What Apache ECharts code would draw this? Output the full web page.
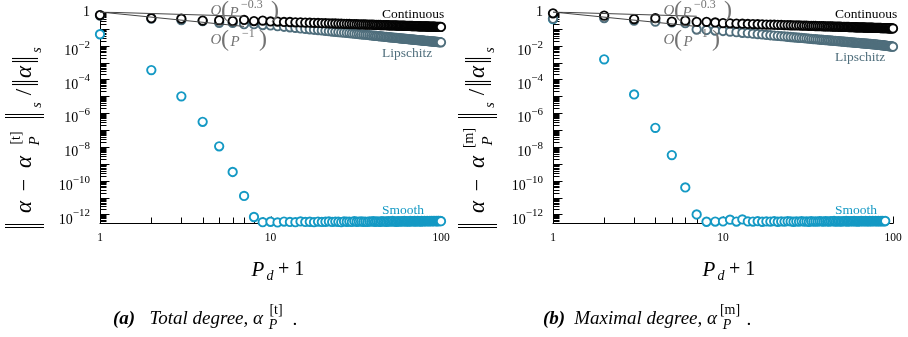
<!DOCTYPE html>
<html>
<head>
<meta charset="utf-8">
<script src="https://cdn.jsdelivr.net/npm/echarts@6/dist/echarts.min.js"></script>
<style>
  html, body { margin: 0; padding: 0; background: #fff; }
  #chart { width: 908px; height: 337px; }
</style>
</head>
<body>
<div id="chart"></div>
<script>
// Polynomial degree axis: P_d + 1
const degree = Array.from({ length: 100 }, (_, i) => i + 1);

// (a) total degree relative errors
const totalContinuous = [
  0.66, 0.43, 0.40, 0.31, 0.32, 0.29, 0.34, 0.29, 0.31, 0.275,
  0.271, 0.258, 0.255, 0.245, 0.243, 0.236, 0.233, 0.227, 0.225, 0.220,
  0.217, 0.214, 0.211, 0.208, 0.205, 0.203, 0.200, 0.198, 0.195, 0.193,
  0.191, 0.189, 0.187, 0.185, 0.184, 0.182, 0.180, 0.179, 0.177, 0.176,
  0.174, 0.173, 0.172, 0.170, 0.169, 0.168, 0.167, 0.166, 0.164, 0.163,
  0.162, 0.161, 0.160, 0.159, 0.158, 0.157, 0.156, 0.156, 0.155, 0.154,
  0.153, 0.152, 0.151, 0.151, 0.150, 0.149, 0.148, 0.148, 0.147, 0.146,
  0.145, 0.145, 0.144, 0.143, 0.143, 0.142, 0.142, 0.141, 0.140, 0.140,
  0.139, 0.139, 0.138, 0.138, 0.137, 0.137, 0.136, 0.136, 0.135, 0.135,
  0.134, 0.134, 0.133, 0.133, 0.132, 0.132, 0.131, 0.131, 0.130, 0.130
];
const totalLipschitz = [
  0.62, 0.41, 0.33, 0.29, 0.23, 0.23, 0.19, 0.19, 0.17, 0.16,
  0.145, 0.134, 0.124, 0.115, 0.107, 0.100, 0.095, 0.089, 0.085, 0.081,
  0.077, 0.073, 0.070, 0.067, 0.065, 0.062, 0.060, 0.058, 0.056, 0.054,
  0.052, 0.050, 0.049, 0.047, 0.046, 0.045, 0.044, 0.043, 0.041, 0.040,
  0.039, 0.038, 0.0375, 0.0366, 0.0357, 0.0348, 0.034, 0.0333, 0.0326, 0.0319,
  0.0312, 0.0306, 0.030, 0.0294, 0.0289, 0.0284, 0.0279, 0.0274, 0.0269, 0.0265,
  0.026, 0.0256, 0.0252, 0.0248, 0.0244, 0.0241, 0.0237, 0.0234, 0.0231, 0.0227,
  0.0224, 0.0221, 0.0218, 0.0216, 0.0213, 0.021, 0.0207, 0.0205, 0.0202, 0.020,
  0.0197, 0.0195, 0.0193, 0.0191, 0.0188, 0.0186, 0.0184, 0.0182, 0.018, 0.0178,
  0.0176, 0.0174, 0.0172, 0.0171, 0.0169, 0.0167, 0.0165, 0.0164, 0.0162, 0.016
];
const totalSmooth = [
  0.048, 3.6e-4, 1.0e-5, 3.1e-7, 1.1e-8, 3.3e-10, 1.26e-11, 7.1e-13,
  3.5e-13, 3.7e-13, 3.4e-13, 3.8e-13, 3.6e-13, 3.5e-13, 3.9e-13, 3.6e-13, 3.7e-13, 3.5e-13,
  3.8e-13, 3.6e-13, 3.7e-13, 3.9e-13, 3.6e-13, 3.8e-13, 3.7e-13, 3.5e-13, 3.9e-13, 3.7e-13,
  3.8e-13, 3.6e-13, 4.0e-13, 3.7e-13, 3.8e-13, 3.9e-13, 3.7e-13, 3.8e-13, 3.6e-13, 3.9e-13,
  3.8e-13, 4.0e-13, 3.7e-13, 3.9e-13, 3.8e-13, 3.7e-13, 4.0e-13, 3.8e-13, 3.9e-13, 3.7e-13,
  4.0e-13, 3.8e-13, 3.9e-13, 4.1e-13, 3.8e-13, 3.9e-13, 3.7e-13, 4.0e-13, 3.9e-13, 3.8e-13,
  4.0e-13, 3.9e-13, 4.1e-13, 3.8e-13, 4.0e-13, 3.9e-13, 3.8e-13, 4.1e-13, 3.9e-13, 4.0e-13,
  3.9e-13, 4.1e-13, 3.8e-13, 4.0e-13, 4.1e-13, 3.9e-13, 4.0e-13, 3.8e-13, 4.1e-13, 4.0e-13,
  3.9e-13, 4.1e-13, 4.0e-13, 3.9e-13, 4.2e-13, 4.0e-13, 3.9e-13, 4.1e-13, 4.0e-13, 4.2e-13,
  3.9e-13, 4.1e-13, 4.0e-13, 4.2e-13, 4.0e-13, 4.1e-13, 3.9e-13, 4.1e-13, 4.2e-13, 4.0e-13,
  4.1e-13, 4.0e-13
];

// (b) maximal degree relative errors
const maximalContinuous = [
  0.84, 0.61, 0.38, 0.43, 0.27, 0.31, 0.26, 0.26, 0.24, 0.22,
  0.214, 0.205, 0.202, 0.196, 0.193, 0.188, 0.185, 0.181, 0.178, 0.176,
  0.173, 0.171, 0.169, 0.167, 0.164, 0.163, 0.161, 0.159, 0.157, 0.155,
  0.154, 0.152, 0.151, 0.150, 0.148, 0.147, 0.146, 0.145, 0.143, 0.142,
  0.141, 0.140, 0.139, 0.138, 0.137, 0.136, 0.135, 0.134, 0.134, 0.133,
  0.132, 0.131, 0.131, 0.130, 0.129, 0.128, 0.128, 0.127, 0.126, 0.125,
  0.125, 0.124, 0.124, 0.123, 0.122, 0.122, 0.121, 0.121, 0.120, 0.120,
  0.119, 0.119, 0.118, 0.118, 0.117, 0.117, 0.116, 0.116, 0.115, 0.115,
  0.114, 0.114, 0.114, 0.113, 0.113, 0.112, 0.112, 0.112, 0.111, 0.111,
  0.110, 0.110, 0.110, 0.109, 0.109, 0.109, 0.108, 0.108, 0.108, 0.107
];
const maximalLipschitz = [
  0.40, 0.44, 0.31, 0.27, 0.24, 0.22, 0.092, 0.086, 0.080, 0.075,
  0.069, 0.064, 0.059, 0.056, 0.052, 0.049, 0.047, 0.044, 0.042, 0.040,
  0.0385, 0.0369, 0.0355, 0.0342, 0.033, 0.0318, 0.0308, 0.0298, 0.0289, 0.028,
  0.0272, 0.0264, 0.0257, 0.025, 0.0244, 0.0238, 0.0232, 0.0227, 0.0222, 0.0218,
  0.0213, 0.0209, 0.0205, 0.0201, 0.0197, 0.0193, 0.019, 0.0187, 0.0183, 0.0179,
  0.0176, 0.0173, 0.017, 0.0167, 0.0165, 0.0162, 0.016, 0.0157, 0.0155, 0.0152,
  0.015, 0.0148, 0.0146, 0.0144, 0.0142, 0.014, 0.0138, 0.0137, 0.0135, 0.0133,
  0.0131, 0.013, 0.0128, 0.0127, 0.0125, 0.0124, 0.0122, 0.0121, 0.0119, 0.0118,
  0.0116, 0.0114, 0.0113, 0.0111, 0.011, 0.0108, 0.0107, 0.0105, 0.0104, 0.0102,
  0.0101, 0.0099, 0.0098, 0.0096, 0.0095, 0.0094, 0.0092, 0.0091, 0.009, 0.0088
];
const maximalSmooth = [
  0.38, 1.56e-3, 1.3e-5, 1.36e-7, 3.3e-9, 4.0e-11, 1.0e-12,
  3.7e-13, 3.8e-13, 3.9e-13, 4.9e-13, 3.8e-13, 5.1e-13, 3.9e-13, 3.8e-13, 4.0e-13, 3.7e-13,
  3.9e-13, 3.8e-13, 4.0e-13, 3.7e-13, 3.9e-13, 3.8e-13, 4.0e-13, 3.9e-13, 3.7e-13, 3.9e-13,
  3.8e-13, 4.0e-13, 3.8e-13, 3.9e-13, 3.7e-13, 4.0e-13, 3.8e-13, 3.9e-13, 3.8e-13, 4.0e-13,
  3.9e-13, 3.8e-13, 4.0e-13, 3.9e-13, 3.8e-13, 4.0e-13, 3.9e-13, 4.1e-13, 3.8e-13, 3.9e-13,
  4.0e-13, 3.8e-13, 3.9e-13, 4.0e-13, 3.9e-13, 4.1e-13, 3.8e-13, 4.0e-13, 3.9e-13, 4.0e-13,
  3.9e-13, 4.1e-13, 3.9e-13, 4.0e-13, 3.8e-13, 4.0e-13, 3.9e-13, 4.1e-13, 4.0e-13, 3.9e-13,
  4.0e-13, 4.1e-13, 3.9e-13, 4.0e-13, 3.9e-13, 4.1e-13, 4.0e-13, 3.9e-13, 4.1e-13, 4.0e-13,
  4.0e-13, 4.1e-13, 3.9e-13, 4.0e-13, 4.1e-13, 4.0e-13, 3.9e-13, 4.1e-13, 4.0e-13, 4.1e-13,
  4.0e-13, 3.9e-13, 4.1e-13
];

// Convergence-rate guide segments
const rateSlowGuide = [[1, 1.0], [7, 0.56]];   // O(P^-0.3)
const rateFastGuide = [[1, 1.0], [7, 0.14]];   // O(P^-1)

// Axis ranges and tick positions
const X_MIN = 1, X_MAX = 100;
const Y_MIN = 3e-13, Y_MAX = 1;
const yMajorTicks = [1, 1e-1, 1e-2, 1e-3, 1e-4, 1e-5, 1e-6, 1e-7, 1e-8, 1e-9, 1e-10, 1e-11, 1e-12];
const yMinorMultiples = [2, 3, 4, 5, 6, 7, 8, 9];
const xMajorTicks = [1, 10, 100];
const xMinorTicks = [2, 3, 4, 5, 6, 7, 8, 9, 20, 30, 40, 50, 60, 70, 80, 90];
const yLabelExponents = [0, -2, -4, -6, -8, -10, -12];

const SERIF = '"Liberation Serif", "DejaVu Serif", serif';
const COLOR_CONT = '#050505';
const COLOR_LIP = '#4f6e7c';
const COLOR_SMOOTH = '#1499c4';
const COLOR_NOTE = '#737373';

const yMinorTicks = [];
yMajorTicks.concat([1e-13]).forEach(d => {
  yMinorMultiples.forEach(m => {
    const v = d * m;
    if (v > Y_MIN * 1.0001 && v < Y_MAX) yMinorTicks.push(v);
  });
});

const tickData = [
  ...yMajorTicks.map(v => [X_MIN, v, 0]),
  ...yMinorTicks.map(v => [X_MIN, v, 1]),
  ...xMajorTicks.map(v => [v, Y_MIN, 2]),
  ...xMinorTicks.map(v => [v, Y_MIN, 3])
];
const TICK_LEN = [9, 6, 7, 6];

const panels = [
  { left: 100, width: 341, cont: totalContinuous, lip: totalLipschitz, smooth: totalSmooth },
  { left: 553, width: 340, cont: maximalContinuous, lip: maximalLipschitz, smooth: maximalSmooth }
];

const grid = panels.map(p => ({ left: p.left, width: p.width, top: 12, height: 211.3 }));

const xAxis = panels.map((p, i) => ({
  type: 'log', logBase: 10, gridIndex: i, min: X_MIN, max: X_MAX,
  axisLine: { lineStyle: { color: '#000', width: 1 } },
  axisTick: { show: false },
  splitLine: { show: false },
  axisLabel: { color: '#000', fontFamily: SERIF, fontSize: 11.5, margin: 9 }
}));

const yAxis = panels.map((p, i) => ({
  type: 'log', logBase: 10, gridIndex: i, min: Y_MIN, max: Y_MAX,
  axisLine: { show: true, lineStyle: { color: '#000', width: 1 } },
  axisTick: { show: false },
  axisLabel: { show: false },
  splitLine: { show: false }
}));

function pairs(values) {
  return degree.map((d, i) => [d, values[i]]);
}

function scatter(i, name, values, color) {
  return {
    type: 'scatter', name, xAxisIndex: i, yAxisIndex: i,
    data: pairs(values), symbol: 'circle', symbolSize: 8.4,
    itemStyle: { color: '#fff', borderColor: color, borderWidth: 1.9, opacity: 1 },
    silent: true
  };
}

function guide(i, data) {
  return {
    type: 'line', xAxisIndex: i, yAxisIndex: i, data, symbol: 'none', z: 3,
    lineStyle: { color: '#454545', width: 1 }, silent: true
  };
}

function tickSeries(i) {
  return {
    type: 'custom', xAxisIndex: i, yAxisIndex: i, data: tickData, silent: true, z: 1,
    renderItem(params, api) {
      const p = api.coord([api.value(0), api.value(1)]);
      const kind = api.value(2);
      const len = TICK_LEN[kind];
      const x = Math.round(p[0]) + 0.5, y = Math.round(p[1]) + 0.5;
      const shape = kind < 2
        ? { x1: x, y1: y, x2: x + len, y2: y }
        : { x1: x, y1: y, x2: x, y2: y - len };
      return { type: 'line', shape, style: { stroke: '#000', lineWidth: 1 } };
    }
  };
}

function yLabelSeries(i) {
  return {
    type: 'custom', xAxisIndex: i, yAxisIndex: i, silent: true, z: 1,
    data: yLabelExponents.map(e => [X_MIN, Math.pow(10, e)]),
    renderItem(params, api) {
      const e = yLabelExponents[params.dataIndex];
      const p = api.coord([api.value(0), api.value(1)]);
      if (e === 0) {
        return { type: 'text', x: p[0] - 10, y: p[1], style: {
          text: '1', font: '14px ' + SERIF, fill: '#000', align: 'right', verticalAlign: 'middle' } };
      }
      return { type: 'text', x: p[0] - 10, y: p[1] + 5.5, style: {
        text: '{b|10}{e|\u2212' + (-e) + '}',
        align: 'right', verticalAlign: 'middle', fill: '#000',
        rich: {
          b: { fontSize: 14, fontFamily: SERIF, lineHeight: 24, fill: '#000' },
          e: { fontSize: 11, fontFamily: SERIF, lineHeight: 8, verticalAlign: 'top', fill: '#000' }
        }
      } };
    }
  };
}

const series = [];
panels.forEach((p, i) => {
  series.push(tickSeries(i), yLabelSeries(i));
  series.push(scatter(i, 'Smooth', p.smooth, COLOR_SMOOTH));
  series.push(scatter(i, 'Lipschitz', p.lip, COLOR_LIP));
  series.push(scatter(i, 'Continuous', p.cont, COLOR_CONT));
  series.push(guide(i, rateSlowGuide), guide(i, rateFastGuide));
});

// ---- text furniture ----
function txt(x, y, text, font, fill, align, rotation) {
  return { type: 'text', x, y, rotation: rotation || 0, silent: true, z: 10,
    style: { text, font, fill: fill || '#000', align: align || 'center', verticalAlign: 'middle' } };
}
function bar(x1, y1, x2, y2) {
  return { type: 'line', silent: true, z: 10, shape: { x1, y1, x2, y2 }, style: { stroke: '#000', lineWidth: 1.1 } };
}

const R = Math.PI / 2;
function yTitle(cx, tag) {
  const it = 'italic 23px ' + SERIF;
  return [
    bar(cx - 20, 224.5, cx + 19, 224.5), bar(cx - 20, 227.5, cx + 19, 227.5),
    txt(cx, 207, '\u03b1', it, '#000', 'center', R),
    txt(cx, 185, '\u2212', '22px ' + SERIF, '#000', 'center', R),
    txt(cx, 162, '\u03b1', it, '#000', 'center', R),
    txt(cx - 9, 138, tag, '14px ' + SERIF, '#000', 'center', R),
    txt(cx + 10, 141, 'P', 'italic 15px ' + SERIF, '#000', 'center', R),
    bar(cx - 20, 117.5, cx + 19, 117.5), bar(cx - 20, 114.5, cx + 19, 114.5),
    txt(cx + 12, 105, 's', 'italic 14px ' + SERIF, '#000', 'center', R),
    txt(cx, 92, '/', '23px ' + SERIF, '#000', 'center', R),
    bar(cx - 13, 84.5, cx + 13, 84.5), bar(cx - 13, 81.5, cx + 13, 81.5),
    txt(cx, 72, '\u03b1', it, '#000', 'center', R),
    bar(cx - 13, 61.5, cx + 13, 61.5), bar(cx - 13, 58.5, cx + 13, 58.5),
    txt(cx + 12, 50, 's', 'italic 14px ' + SERIF, '#000', 'center', R)
  ];
}

function notes(dx) {
  const o = 'italic 15px ' + SERIF, par = '24px ' + SERIF, ex = '12px ' + SERIF;
  return [
    txt(216 + dx, 11, 'O', o, COLOR_NOTE),
    txt(225 + dx, 11, '(', par, COLOR_NOTE),
    txt(234 + dx, 13, 'P', o, COLOR_NOTE),
    txt(241 + dx, 5, '\u22120.3', ex, COLOR_NOTE, 'left'),
    txt(275 + dx, 11, ')', par, COLOR_NOTE),
    txt(216 + dx, 40, 'O', o, COLOR_NOTE),
    txt(225 + dx, 40, '(', par, COLOR_NOTE),
    txt(235 + dx, 42, 'P', o, COLOR_NOTE),
    txt(242 + dx, 34, '\u22121', ex, COLOR_NOTE, 'left'),
    txt(263 + dx, 40, ')', par, COLOR_NOTE)
  ];
}

function seriesNames(dx, lipY) {
  const f = '13.5px ' + SERIF;
  return [
    txt(382 + dx, 14, 'Continuous', f, '#000', 'left'),
    txt(382 + dx, lipY, 'Lipschitz', f, COLOR_LIP, 'left'),
    txt(382 + dx, 210, 'Smooth', f, COLOR_SMOOTH, 'left')
  ];
}

function xTitle(cx) {
  return [
    txt(cx - 18, 270, 'P', 'italic 21px ' + SERIF),
    txt(cx - 6, 276, 'd', 'italic 14px ' + SERIF),
    txt(cx + 2, 270, '+ 1', '20px ' + SERIF, '#000', 'left')
  ];
}

function caption(left, tag, body, bodyRight, sup) {
  return [
    txt(left, 319, tag, 'italic bold 19px ' + SERIF, '#000', 'left'),
    txt(bodyRight, 319, body, 'italic 19px ' + SERIF, '#000', 'right'),
    txt(bodyRight + 13, 310, sup, '14px ' + SERIF, '#000', 'center'),
    txt(bodyRight + 10, 325, 'P', 'italic 14px ' + SERIF, '#000', 'center'),
    txt(bodyRight + 30, 320, '.', 'italic 19px ' + SERIF, '#000', 'left')
  ];
}

const graphic = [
  ...yTitle(25, '[t]'), ...yTitle(478, '[m]'),
  ...notes(0), ...notes(453),
  ...seriesNames(0, 53), ...seriesNames(453, 57),
  ...xTitle(276), ...xTitle(727),
  ...caption(113, '(a)', 'Total degree, \u03b1', 263, '[t]'),
  ...caption(543, '(b)', 'Maximal degree, \u03b1', 717, '[m]')
];

const chart = echarts.init(document.getElementById('chart'), null, { renderer: 'canvas' });
chart.setOption({
  animation: false,
  backgroundColor: '#fff',
  grid, xAxis, yAxis, series, graphic
});
</script>
</body>
</html>
